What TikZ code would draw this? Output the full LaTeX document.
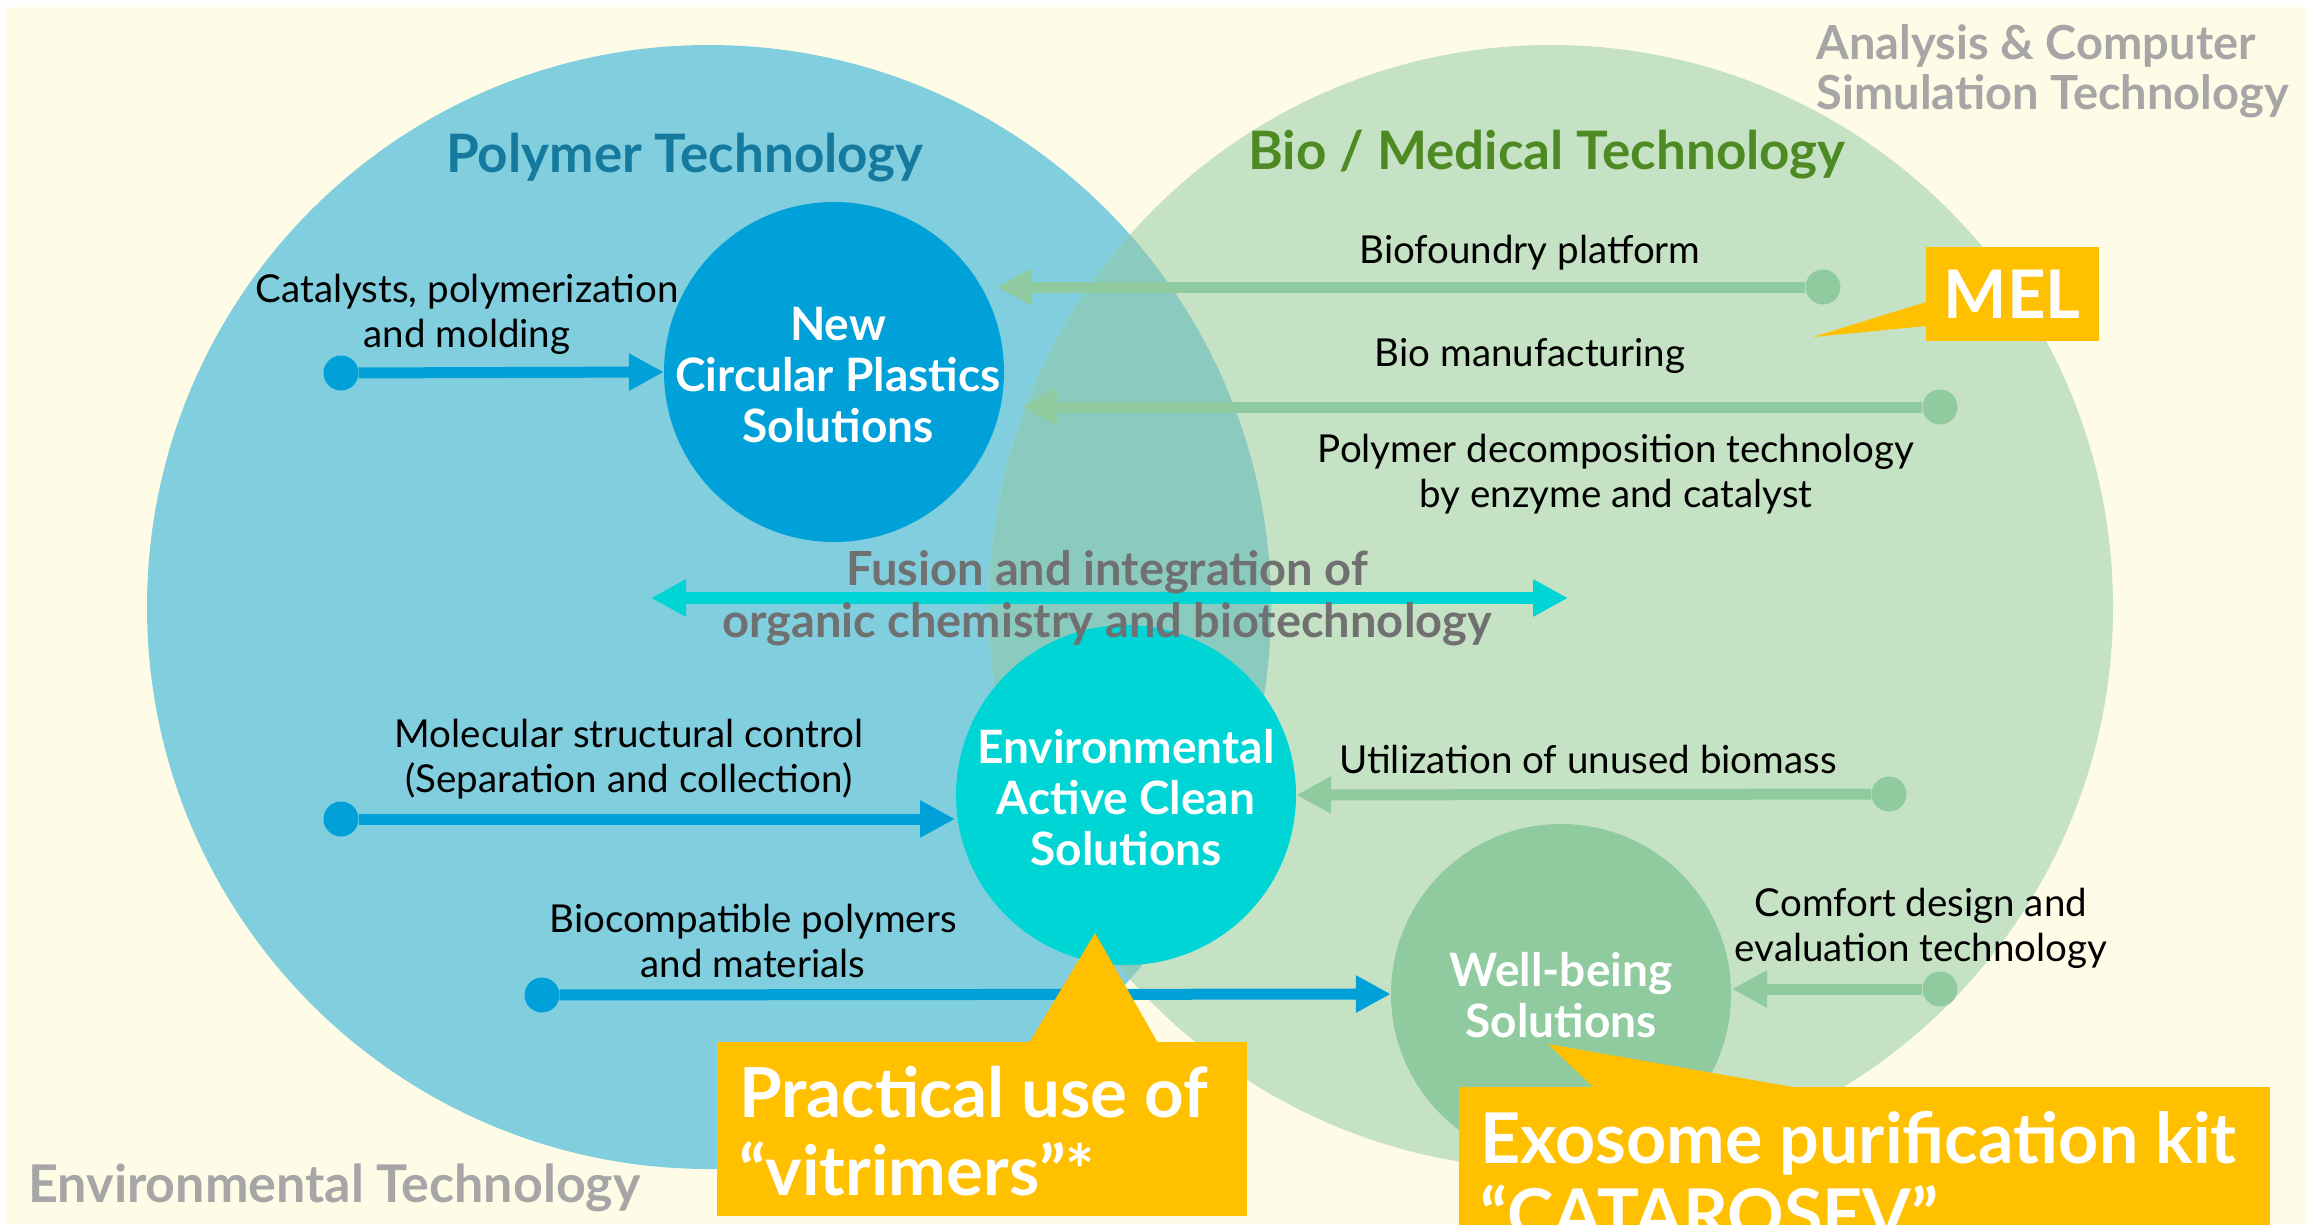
\documentclass[tikz,border=0pt]{standalone}
\usepackage{fontspec}
\setmainfont{Lato}
\usetikzlibrary{arrows.meta}
\definecolor{cream}{HTML}{FEFCE6}
\definecolor{polyblue}{HTML}{80CEDE}
\definecolor{biogreen}{HTML}{C5E3C4}
\definecolor{overlap}{HTML}{8BCBBF}
\definecolor{ncpblue}{HTML}{00A0D9}
\definecolor{eaccyan}{HTML}{00D5D6}
\definecolor{wbgreen}{HTML}{8FCB9E}
\definecolor{callorange}{HTML}{FFC000}
\definecolor{ttlgray}{HTML}{A6A6A6}
\definecolor{fusgray}{HTML}{707070}
\definecolor{polyttl}{HTML}{157A9E}
\definecolor{biottl}{HTML}{4D8A24}

\begin{document}
\begin{tikzpicture}[x=1pt,y=-1pt]
  \tikzstyle{sol}=[circle,minimum size=340pt,inner sep=0pt]
  \tikzstyle{soltxt}=[text=white,align=center,font=\fontsize{46}{51}\selectfont\bfseries]
  \tikzstyle{lbl}=[align=center,font=\fontsize{38.5}{45}\selectfont]
  \tikzstyle{ttl}=[font=\fontsize{53}{60}\selectfont\bfseries]
  \tikzstyle{gttl}=[text=ttlgray,align=left,font=\fontsize{47}{50}\selectfont\bfseries]
  \tikzstyle{enddot}=[circle,minimum size=35pt,inner sep=0pt]
  \tikzstyle{arr}=[line width=11pt,-{Triangle[length=35pt,width=35pt]}]
  \tikzstyle{calltxt}=[text=white,align=left,anchor=west,inner sep=0pt]
\useasboundingbox (0,0) rectangle (2305,1224);
\clip (0,0) rectangle (2305,1224);
\fill[white] (0,0) rectangle (2305,1224);
\fill[cream] (5,7) rectangle (2305,1224);
% the two fields
\fill[polyblue] (709,607) circle (562);
\fill[biogreen] (1551,607) circle (562);
\begin{scope}
  \clip (709,607) circle (562);
  \fill[overlap] (1551,607) circle (562);
\end{scope}
\node[ttl,text=polyttl] (polyttl) at (685,158) {Polymer Technology};
\node[ttl,text=biottl] (biottl) at (1547,155) {Bio / Medical Technology};
\node[gttl,anchor=west] (simttl) at (1813,71) {Analysis \& Computer\\Simulation Technology};
\node[gttl,anchor=west,font=\fontsize{52}{56}\selectfont\bfseries] (envttl) at (25,1188) {Environmental Technology};
% solutions
\node[sol,fill=ncpblue] (ncp) at (834,372) {};
\node[sol,fill=eaccyan] (eac) at (1126,795) {};
\node[sol,fill=wbgreen] (wb) at (1561,994) {};
\node[soltxt] (ncptxt) at (838,375) {New\\Circular Plastics\\Solutions};
\node[soltxt] (eactxt) at (1126,798) {Environmental\\Active Clean\\Solutions};
\node[soltxt] (wbtxt) at (1561,995) {Well-being\\Solutions};
% polymer side
\node[enddot,fill=ncpblue] (catdot) at (341,373) {};
\draw[arr,ncpblue] (catdot) -- (ncp.west);
\node[lbl] (catlbl) at (467,314) {Catalysts, polymerization\\and molding};
\node[enddot,fill=ncpblue] (moldot) at (341,819) {};
\coordinate (molend) at (955,819);
\draw[arr,ncpblue] (moldot) -- (molend);
\node[lbl] (mollbl) at (629,759) {Molecular structural control\\(Separation and collection)};
\node[enddot,fill=ncpblue] (bcdot) at (542,995) {};
\draw[arr,ncpblue] (bcdot) -- (wb.west);
\node[lbl] (bclbl) at (753,941) {Biocompatible polymers\\and materials};
% bio side
\node[enddot,fill=wbgreen] (bfdot) at (1823,287) {};
\coordinate (bfend) at (997,287);
\draw[arr,wbgreen] (bfdot) -- (bfend);
\node[lbl] (bflbl) at (1530,253) {Biofoundry platform};
\node[enddot,fill=wbgreen] (bmdot) at (1940,407) {};
\coordinate (bmend) at (1022,407);
\draw[arr,wbgreen] (bmdot) -- (bmend);
\node[lbl] (bmlbl) at (1530,356) {Bio manufacturing};
\node[lbl] (pdlbl) at (1616,474) {Polymer decomposition technology\\by enzyme and catalyst};
\node[enddot,fill=wbgreen] (utdot) at (1889,794) {};
\draw[arr,wbgreen] (utdot) -- (eac.east);
\node[lbl] (utlbl) at (1588,759) {Utilization of unused biomass};
\node[enddot,fill=wbgreen] (cfdot) at (1940,989) {};
\coordinate (cfend) at (1732,989);
\draw[arr,wbgreen] (cfdot) -- (cfend);
\node[lbl] (cflbl) at (1921,928) {Comfort design and\\evaluation technology};
% fusion
\coordinate (fusl) at (651,598);
\coordinate (fusr) at (1568,598);
\draw[line width=12pt,eaccyan,{Triangle[length=35pt,width=35pt]}-{Triangle[length=35pt,width=35pt]}] (fusl) -- (fusr);
\node[text=fusgray,align=center,font=\fontsize{47}{52}\selectfont\bfseries] (fustxt) at (1107,598) {Fusion and integration of\\organic chemistry and biotechnology};
% call-outs
\fill[callorange] (1813,337) -- (1926,302) -- (1926,326) -- cycle;
\node[fill=callorange,minimum width=173pt,minimum height=94pt,text=white,font=\fontsize{67}{80}\selectfont\bfseries] (mel) at (2012,294) {MEL};
\fill[callorange] (1095,933) -- (1029,1043) -- (1158,1043) -- cycle;
\fill[callorange] (717,1042) rectangle (1247,1216);
\node[calltxt,font=\fontsize{69}{78}\selectfont\bfseries] (vitri) at (739,1131) {Practical use of\\“vitrimers”*};
\fill[callorange] (1548,1044) -- (1594,1088) -- (1798,1088) -- cycle;
\fill[callorange] (1459,1087) rectangle (2270,1260);
\node[calltxt,font=\fontsize{70}{76}\selectfont\bfseries] (exo) at (1480,1176) {Exosome purification kit\\“CATAROSEV”};
\end{tikzpicture}
\end{document}
